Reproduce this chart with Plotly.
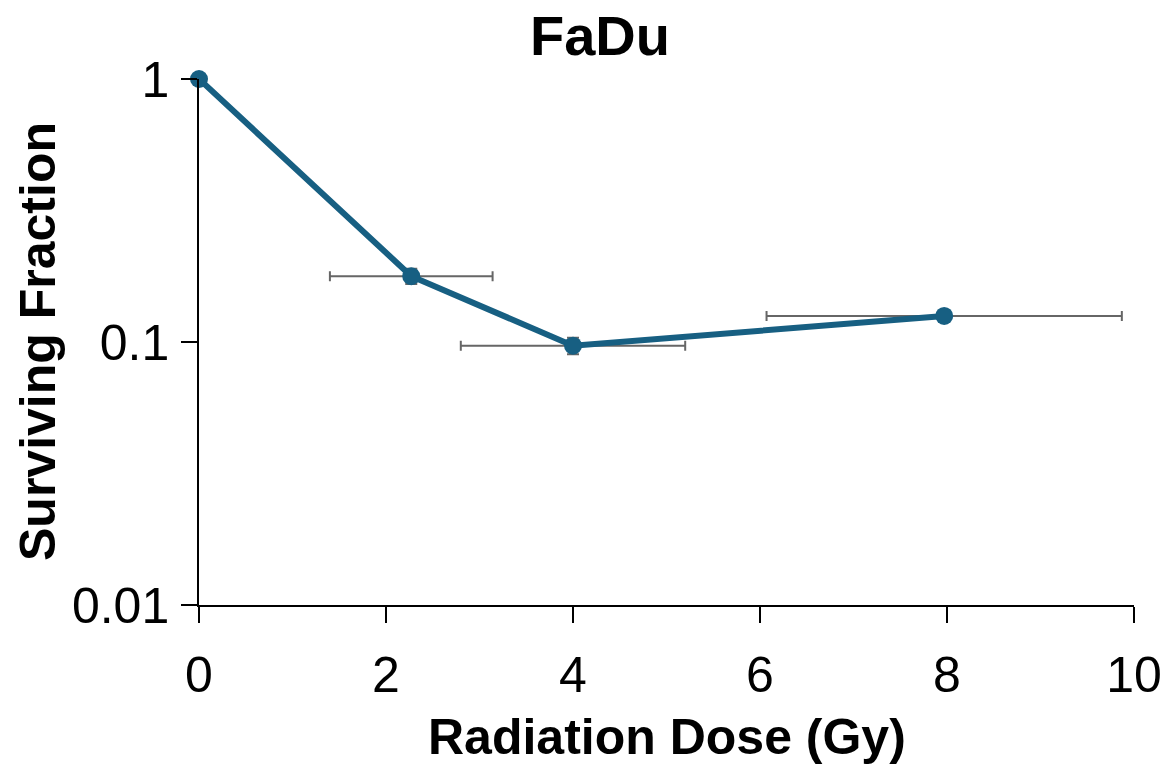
import plotly.graph_objects as go

dose = [0, 2.27, 4.0, 7.97]
surviving_fraction = [1.0, 0.178, 0.0968, 0.1256]
dose_err = [0, 0.87, 1.2, 1.9]
sf_err = [0, 0.012, 0.007, 0.0]

x_ticks = [0, 2, 4, 6, 8, 10]
y_ticks = [0.01, 0.1, 1]
y_tick_labels = ["0.01", "0.1", "1"]

line_color = "#175F82"
err_color = "#666666"
font_family = "Liberation Sans, Arial, sans-serif"

fig = go.Figure()
fig.add_trace(go.Scatter(
    x=dose, y=surviving_fraction, mode="lines+markers",
    line=dict(color=line_color, width=6),
    marker=dict(color=line_color, size=18),
    error_x=dict(type="data", array=dose_err, color=err_color, thickness=2, width=5, visible=True),
    error_y=dict(type="data", array=sf_err, color=err_color, thickness=2, width=6, visible=True),
    cliponaxis=False, showlegend=False,
))

fig.update_layout(
    width=1168, height=765,
    margin=dict(l=199, r=34, t=79, b=160, autoexpand=False),
    paper_bgcolor="white", plot_bgcolor="white",
    font=dict(family=font_family, color="black"),
    title=dict(text="<b>FaDu</b>", x=600/1168, xref="container", xanchor="center",
               y=1-35/765, yref="container", yanchor="middle",
               font=dict(size=56, family=font_family, color="black")),
    xaxis=dict(range=[0, 10], tickvals=x_ticks, ticks="outside", ticklen=16, tickwidth=1.5,
               tickcolor="black", showline=True, linecolor="black", linewidth=1.5,
               showgrid=False, zeroline=False, tickfont=dict(size=50),
               ticklabelstandoff=9, automargin=False),
    yaxis=dict(type="log", range=[-2, 0], tickvals=y_ticks, ticktext=y_tick_labels,
               ticks="outside", ticklen=16, tickwidth=1.5, tickcolor="black",
               showline=True, linecolor="black", linewidth=1.5, showgrid=False,
               zeroline=False, tickfont=dict(size=50), ticklabelstandoff=2,
               automargin=False),
    annotations=[
        dict(text="<b>Radiation Dose (Gy)</b>", xref="paper", yref="paper",
             x=0.5, y=-(737-605)/526, showarrow=False, font=dict(size=50),
             xanchor="center", yanchor="middle"),
        dict(text="<b>Surviving Fraction</b>", xref="paper", yref="paper",
             x=-(199-38)/935, y=0.5, showarrow=False, font=dict(size=50), textangle=-90,
             xanchor="center", yanchor="middle"),
    ],
)

fig.write_html("out.html")
